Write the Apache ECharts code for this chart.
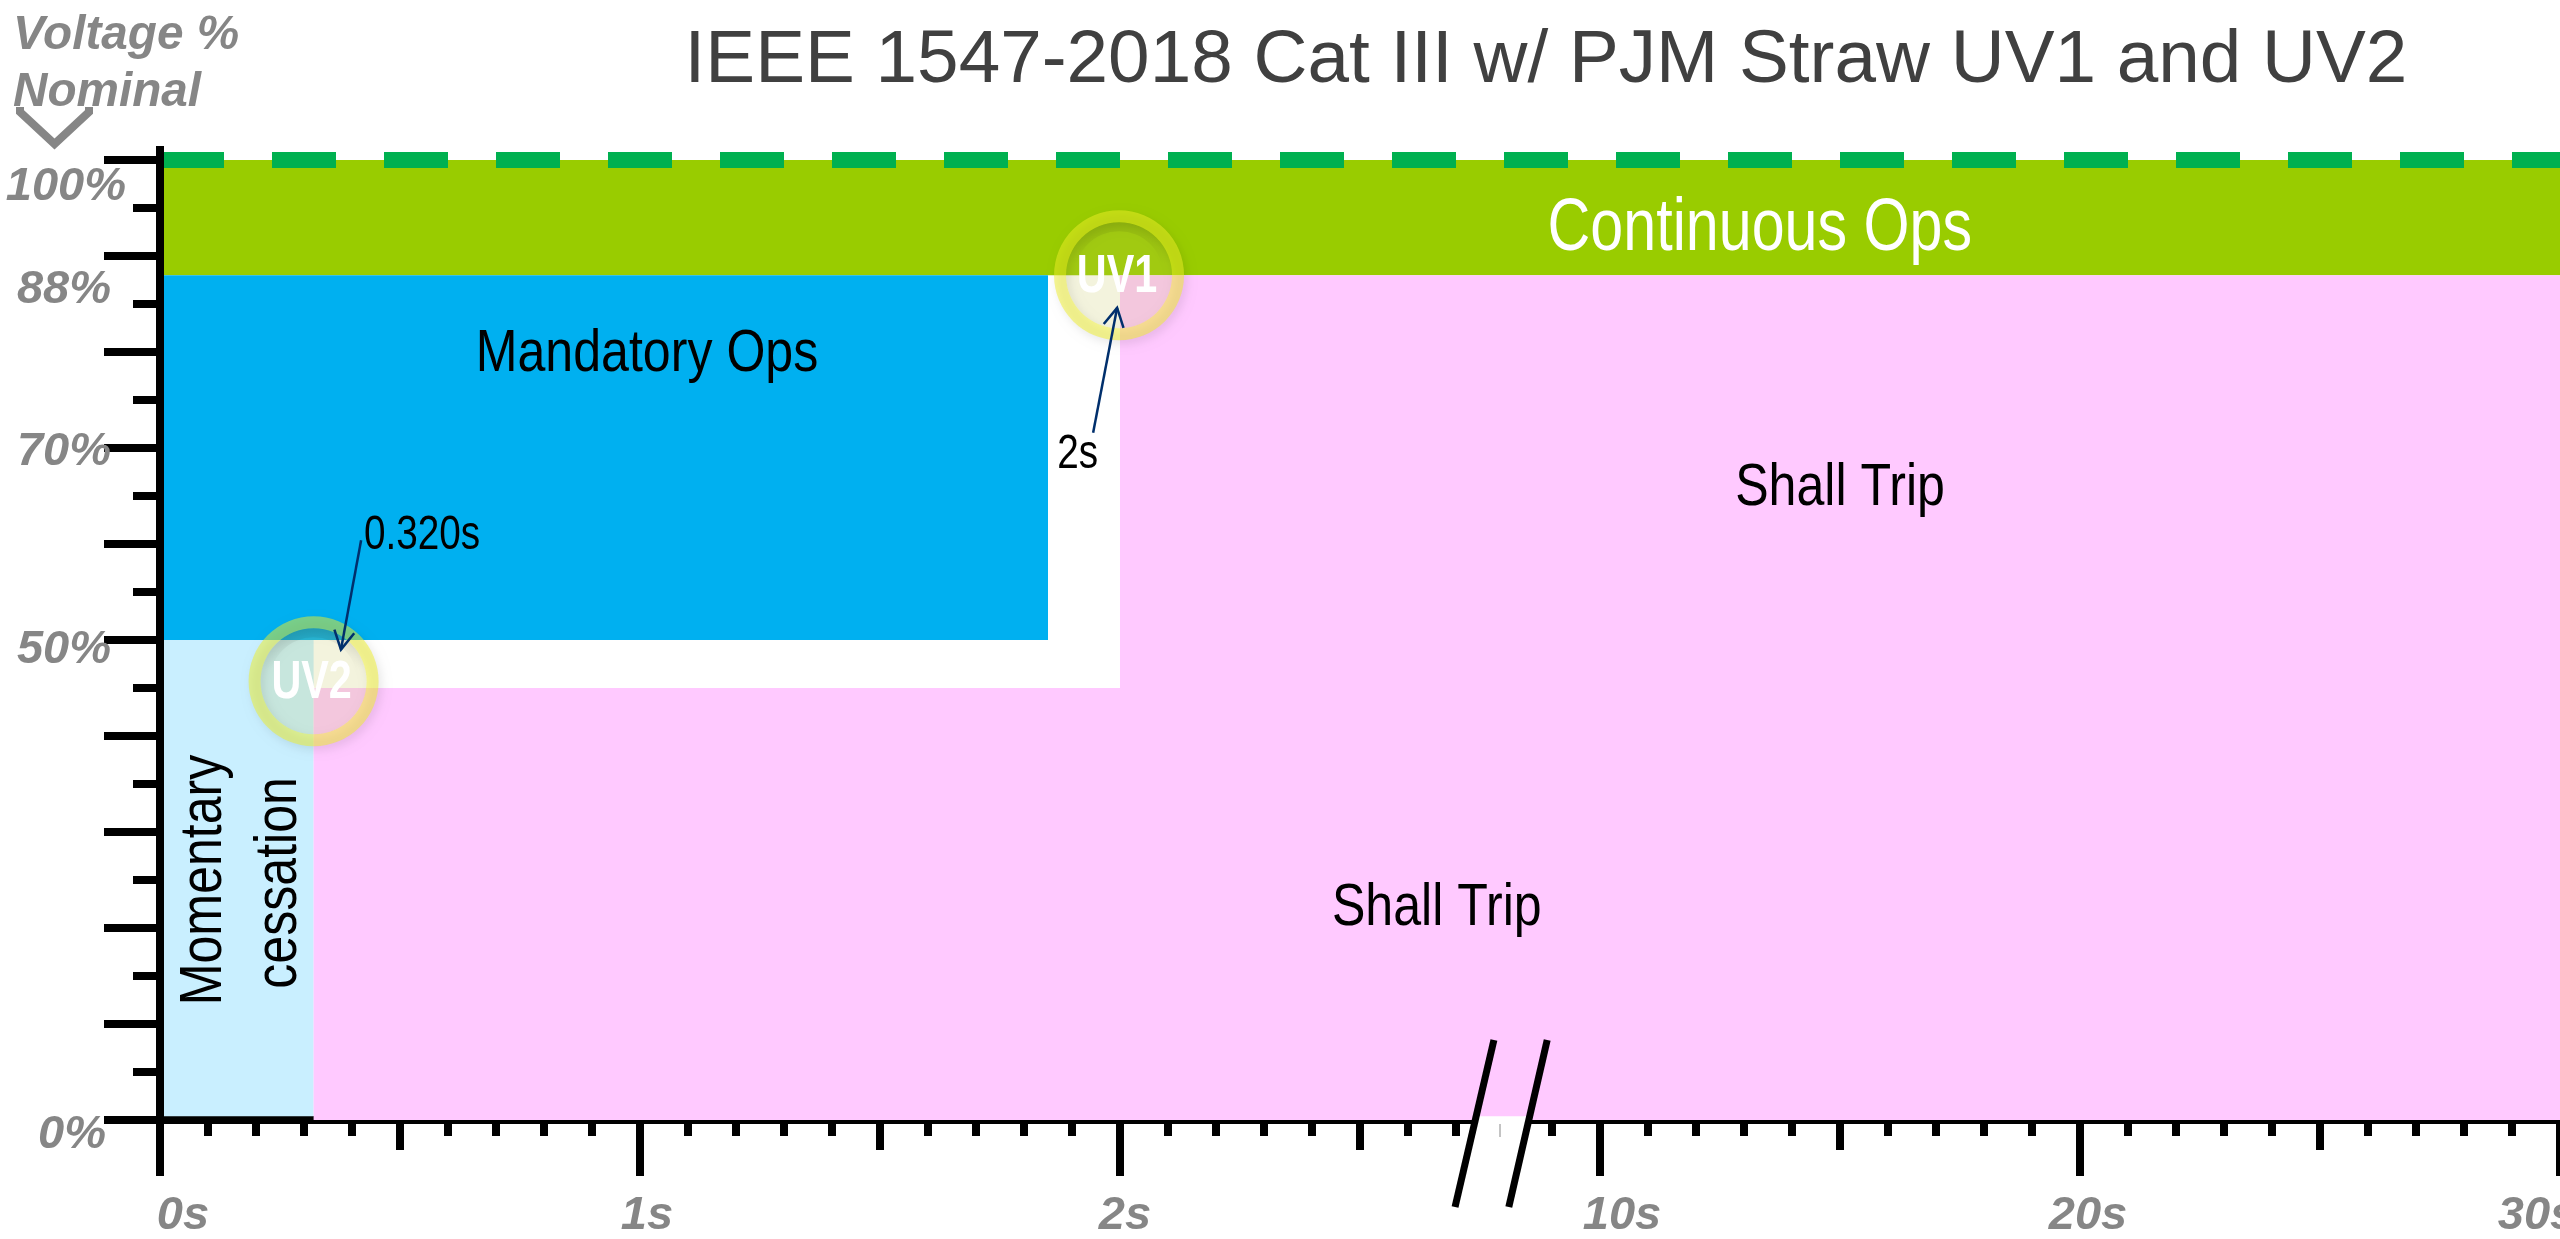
<!DOCTYPE html>
<html>
<head>
    <meta charset="utf-8">
    <title>IEEE 1547-2018 Cat III w/ PJM Straw UV1 and UV2</title>
    <script src="https://cdn.jsdelivr.net/npm/echarts@6/dist/echarts.min.js"></script>
    <style>
        html, body { margin: 0; padding: 0; background: #fff; }
        #main { width: 2560px; height: 1239px; }
    </style>
</head>
<body>
<div id="main"></div>
<script type="text/javascript">
    // x axis is broken: 0..2 is real seconds, 3/4/5 stand for 10s/20s/30s
    var xTickValues = [0, 1, 2, 3, 4, 5];
    var xTickLabels = ['0s', '1s', '2s', '10s', '20s', '30s'];
    var yTickValues = [0, 50, 70, 88, 100];
    var yTickLabels = ['0%', '50%', '70%', '88%', '100%'];

    // regions: from, to (x) and from, to (voltage %)
    var regionNames = ['Continuous', 'Mandatory', 'Momentary', 'TripLow', 'TripHigh'];
    var regionX0 = [0, 0, 0, 0.32, 2];
    var regionX1 = [5, 1.85, 0.32, 5, 5];
    var regionY0 = [88, 50, 0.4, 0, 45];
    var regionY1 = [100, 88, 50, 45, 88];

    var nominalX = [0, 5];
    var nominalY = [100, 100];

    var ridePoints = ['UV1', 'UV2'];
    var rideX = [1.998, 0.32];
    var rideY = [88, 45.7];

    var noteText = ['2s', '0.320s'];
    var noteX = [1.912, 0.546];
    var noteY = [69.3, 60.9];
    var arrowFromX = [1.944, 0.419];
    var arrowFromY = [71.6, 60.4];
    var arrowToX = [1.994, 0.377];
    var arrowToY = [84.6, 49];

    var areaText = ['Continuous Ops', 'Mandatory Ops', 'Shall Trip', 'Shall Trip', 'Momentary', 'cessation'];
    var areaX = [3.333, 1.0146, 3.5, 2.66, 0.0935, 0.249];
    var areaY = [92.7, 79.75, 65.8, 22, 25, 24.7];

    var breakTopX = [2.779, 2.89];
    var breakBottomX = [2.698, 2.81];
    var breakTopY = 8.33;
    var breakBottomY = -9.06;

    // styles
    var GREY = '#868686';
    var NAVY = '#002F6C';
    var SANS = '"Liberation Sans", Arial, sans-serif';
    // no narrow face installed, squeeze the regular one
    var SQUEEZE = 0.835;
    var regionColors = {
        Continuous: '#99CC00', Mandatory: '#00B0F0', Momentary: '#C9EFFF',
        TripLow: '#FFC9FF', TripHigh: '#FFC9FF'
    };
    var areaStyle = [
        { size: 74, fill: '#fff', rot: 0 }, { size: 60, fill: '#000', rot: 0 },
        { size: 60, fill: '#000', rot: 0 }, { size: 60, fill: '#000', rot: 0 },
        { size: 60, fill: '#000', rot: Math.PI / 2 }, { size: 60, fill: '#000', rot: Math.PI / 2 }
    ];
    // the labels in the picture sit off their ticks, so shift them
    var xLabelShift = [23, 7, 5, 22, 8, -23];
    var yLabelRight = [20, 15, 15, 15, 0];
    var yLabelDown = [15, 10, 4, 15, 27];

    var xRich = {}, yRich = {};
    xTickLabels.forEach(function (t, i) {
        var s = xLabelShift[i];
        xRich['x' + i] = { padding: s > 0 ? [0, 0, 0, 2 * s] : [0, -2 * s, 0, 0] };
    });
    yTickLabels.forEach(function (t, i) {
        yRich['y' + i] = { padding: [2 * yLabelDown[i], yLabelRight[i], 0, 0] };
    });

    function tickAxis(interval, len, extra) {
        return Object.assign({
            type: 'value', position: 'bottom', min: 0, max: 5, interval: interval, z: 0,
            splitLine: { show: false },
            axisLine: { show: false },
            axisLabel: { show: false },
            axisTick: { show: true, length: len, lineStyle: { color: '#000', width: 8 } }
        }, extra);
    }

    function regionItem(params, api) {
        var a = api.coord([api.value(0), api.value(3)]);
        var b = api.coord([api.value(1), api.value(2)]);
        return {
            type: 'rect',
            shape: { x: a[0], y: a[1], width: b[0] - a[0], height: b[1] - a[1] },
            style: { fill: regionColors[regionNames[params.dataIndex]] }
        };
    }

    function areaTextItem(params, api) {
        var p = api.coord([api.value(0), api.value(1)]);
        var st = areaStyle[params.dataIndex];
        return {
            type: 'text', x: p[0], y: p[1], rotation: st.rot, scaleX: st.size > 60 ? 0.8 : SQUEEZE,
            style: {
                text: areaText[params.dataIndex], fill: st.fill,
                font: st.size + 'px ' + SANS, align: 'center', verticalAlign: 'middle'
            }
        };
    }

    function breakItem(params, api) {
        var i = params.dataIndex;
        if (i > 0) {
            // one slash of the axis break
            var t = api.coord([breakTopX[i - 1], breakTopY]);
            var b = api.coord([breakBottomX[i - 1], breakBottomY]);
            return {
                type: 'line', shape: { x1: t[0], y1: t[1], x2: b[0], y2: b[1] },
                style: { stroke: '#000', lineWidth: 7 }
            };
        }
        // white gap between the slashes, it also wipes the axis line
        var f = function (x0, x1) {
            var y = 0.4;
            var k = (breakTopY - y) / (breakTopY - breakBottomY);
            return x0 + (x1 - x0) * k;
        };
        return {
            type: 'polygon',
            shape: {
                points: [
                    api.coord([f(breakTopX[0], breakBottomX[0]), 0.4]),
                    api.coord([f(breakTopX[1], breakBottomX[1]), 0.4]),
                    api.coord([breakBottomX[1], breakBottomY]),
                    api.coord([breakBottomX[0], breakBottomY])
                ]
            },
            style: { fill: '#fff' }
        };
    }

    function rideItem(params, api) {
        var c = api.coord([api.value(0), api.value(1)]);
        return {
            type: 'group',
            children: [
                { type: 'circle', shape: { cx: c[0], cy: c[1], r: 53 }, style: { fill: 'rgba(195,195,85,0.2)' } },
                {
                    // soft shade inside the top of the ring
                    type: 'ring', shape: { cx: c[0], cy: c[1], r: 53, r0: 44 },
                    style: {
                        fill: new echarts.graphic.LinearGradient(0, 0, 0, 1, [
                            { offset: 0, color: 'rgba(0,0,0,0.08)' },
                            { offset: 0.4, color: 'rgba(0,0,0,0)' }
                        ])
                    }
                },
                {
                    type: 'ring', shape: { cx: c[0], cy: c[1], r: 65, r0: 53 },
                    style: {
                        fill: 'rgba(240,240,40,0.5)', shadowBlur: 10, shadowOffsetX: 3, shadowOffsetY: 4,
                        shadowColor: 'rgba(0,0,0,0.18)'
                    }
                },
                {
                    type: 'text', x: c[0] - 2, y: c[1] + 2, scaleX: 0.78,
                    style: {
                        text: ridePoints[params.dataIndex], fill: '#fff', font: 'bold 53px ' + SANS,
                        align: 'center', verticalAlign: 'middle', shadowBlur: 5, shadowOffsetX: 3,
                        shadowOffsetY: 4, shadowColor: 'rgba(0,0,0,0.5)'
                    }
                }
            ]
        };
    }

    function noteItem(params, api) {
        var i = params.dataIndex;
        var p = api.coord([noteX[i], noteY[i]]);
        var a = api.coord([arrowFromX[i], arrowFromY[i]]);
        var b = api.coord([arrowToX[i], arrowToY[i]]);
        var ang = Math.atan2(a[1] - b[1], a[0] - b[0]);
        var head = function (d) {
            return [b[0] + 21 * Math.cos(ang + d), b[1] + 21 * Math.sin(ang + d)];
        };
        return {
            type: 'group',
            children: [
                { type: 'line', shape: { x1: a[0], y1: a[1], x2: b[0], y2: b[1] }, style: { stroke: NAVY, lineWidth: 2.5 } },
                { type: 'polyline', shape: { points: [head(0.5), b, head(-0.5)] }, style: { stroke: NAVY, fill: null, lineWidth: 2.5 } },
                {
                    type: 'text', x: p[0], y: p[1], scaleX: 0.79,
                    style: { text: noteText[i], fill: '#000', font: '49px ' + SANS, align: 'center', verticalAlign: 'middle' }
                }
            ]
        };
    }

    var myChart = echarts.init(document.getElementById('main'));
    var option = {
        animation: false,
        backgroundColor: '#fff',
        title: [
            {
                text: 'IEEE 1547-2018 Cat III w/ PJM Straw UV1 and UV2',
                left: 1541, top: 19, textAlign: 'center',
                textStyle: { fontFamily: 'Liberation Sans', fontWeight: 'normal', fontSize: 74.7, color: '#404040' }
            },
            {
                text: 'Voltage %\nNominal',
                left: 8, top: 2,
                textStyle: {
                    fontFamily: 'Liberation Sans', fontWeight: 'bold', fontStyle: 'italic',
                    fontSize: 47.7, lineHeight: 57, color: GREY
                }
            }
        ],
        grid: { left: 160, right: 0, top: 160, bottom: 119, outerBoundsMode: 'none' },
        xAxis: [
            tickAxis(1, 56, {
                axisLine: { show: true, onZero: false, lineStyle: { color: '#000', width: 8 } },
                axisLabel: {
                    show: true, margin: 73, fontFamily: 'Liberation Sans', fontWeight: 'bold', fontStyle: 'italic',
                    fontSize: 47, color: GREY, verticalAlign: 'top', hideOverlap: false,
                    showMinLabel: true, showMaxLabel: true, rich: xRich,
                    formatter: function (v) {
                        var i = xTickValues.indexOf(v);
                        return i < 0 ? '' : '{x' + i + '|' + xTickLabels[i] + '}';
                    }
                }
            }),
            tickAxis(0.5, 30),
            tickAxis(0.1, 16)
        ],
        yAxis: [
            {
                type: 'value', position: 'left', min: 0, max: 100, interval: 10, z: 5,
                splitLine: { show: false },
                axisLine: { show: true, onZero: false, lineStyle: { color: '#000', width: 8 } },
                axisTick: { show: true, length: 56, lineStyle: { color: '#000', width: 8 } },
                axisLabel: {
                    show: true, margin: 34, customValues: yTickValues, align: 'right',
                    fontFamily: 'Liberation Sans', fontWeight: 'bold', fontStyle: 'italic',
                    fontSize: 47, color: GREY, rich: yRich, showMinLabel: true, showMaxLabel: true,
                    formatter: function (v) {
                        var i = yTickValues.indexOf(v);
                        return i < 0 ? '' : '{y' + i + '|' + yTickLabels[i] + '}';
                    }
                }
            },
            {
                type: 'value', position: 'left', min: 0, max: 100, interval: 5, z: 5,
                splitLine: { show: false },
                axisLine: { show: false },
                axisLabel: { show: false },
                axisTick: { show: true, length: 27, lineStyle: { color: '#000', width: 8 } }
            }
        ],
        graphic: [
            {
                // the arrow under the axis name and the stub of the y axis above 100%
                type: 'polyline', z: 10,
                shape: { points: [[20, 107], [20, 112], [54.5, 144], [89, 112], [89, 107]] },
                style: { stroke: GREY, fill: null, lineWidth: 8 }
            },
            {
                type: 'line', z: 10,
                shape: { x1: 160, y1: 146, x2: 160, y2: 162 },
                style: { stroke: '#000', lineWidth: 8 }
            },
            {
                // hairline of the tick left in the break
                type: 'line', z: 10,
                shape: { x1: 1500, y1: 1124, x2: 1500, y2: 1137 },
                style: { stroke: '#888', lineWidth: 1 }
            }
        ],
        series: [
            {
                type: 'custom', z: 2, renderItem: regionItem,
                data: regionNames.map(function (n, i) {
                    return [regionX0[i], regionX1[i], regionY0[i], regionY1[i]];
                })
            },
            {
                type: 'line', z: 3, clip: false, showSymbol: false, silent: true,
                data: nominalX.map(function (x, i) { return [x, nominalY[i]]; }),
                lineStyle: { color: '#00B050', width: 16, type: [64, 48], cap: 'butt' }
            },
            {
                type: 'custom', z: 4, renderItem: breakItem,
                data: [0, 1, 2]
            },
            {
                type: 'custom', z: 5, renderItem: areaTextItem,
                data: areaX.map(function (x, i) { return [x, areaY[i]]; })
            },
            {
                type: 'custom', z: 6, renderItem: rideItem,
                data: rideX.map(function (x, i) { return [x, rideY[i]]; })
            },
            {
                type: 'custom', z: 7, renderItem: noteItem,
                data: noteX.map(function (x, i) { return [x, noteY[i]]; })
            }
        ]
    };
    myChart.setOption(option);
</script>
</body>
</html>
